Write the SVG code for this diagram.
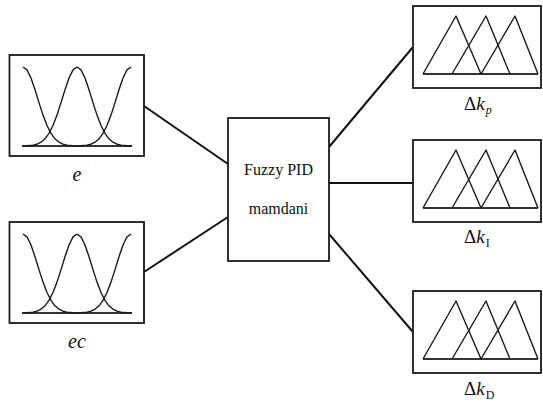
<svg xmlns="http://www.w3.org/2000/svg" width="543" height="403" viewBox="0 0 543 403">
  <style>
    .box { fill: #fff; stroke: #1a1a1a; stroke-width: 1.8; }
    .mf { fill: none; stroke: #1a1a1a; stroke-width: 1.4; stroke-linejoin: round; }
    .axis { fill: none; stroke: #333; stroke-width: 1.8; }
    .link { fill: none; stroke: #111; stroke-width: 2; }
    .lbl { font-family: "Liberation Serif", "Times New Roman", serif; fill: #111; }
    .var { font-size: 20px; font-style: italic; }
    .title { font-size: 16px; text-anchor: middle; }
  </style>
  <defs>
    <!-- half of a Gaussian membership curve, peak at origin, falling to the right -->
    <path id="halfBell" d="M0,0 L4,2.9 L8,11 L12,22.7 L16,35.6 L20,48.1 L24,58.5 L28,66.4 L32,71.8 L36,75.2 L40,77.2 L44,78.2 L50,78.8 L54,79"/>
    <!-- three overlapping Gaussian sets over a common universe -->
    <g id="gaussSet">
      <line class="axis" x1="22" y1="146" x2="132" y2="146"/>
      <use href="#halfBell" class="mf" transform="translate(23,67)"/>
      <use href="#halfBell" class="mf" transform="translate(77,67) scale(-1,1)"/>
      <use href="#halfBell" class="mf" transform="translate(77,67)"/>
      <use href="#halfBell" class="mf" transform="translate(131,67) scale(-1,1)"/>
    </g>
    <!-- three overlapping triangular sets -->
    <g id="triSet">
      <line class="axis" x1="423" y1="68" x2="538" y2="68"/>
      <polyline class="mf" points="423,68 456,10 481,68"/>
      <polyline class="mf" points="452,68 486,10 510,68"/>
      <polyline class="mf" points="481,68 515,10 538,68"/>
    </g>
  </defs>

  <g id="connectors">
    <line class="link" x1="144" y1="106" x2="228" y2="164"/>
    <line class="link" x1="144" y1="272" x2="228" y2="217"/>
    <line class="link" x1="329" y1="147" x2="413" y2="47"/>
    <line class="link" x1="329" y1="183" x2="413" y2="183"/>
    <line class="link" x1="329" y1="234" x2="413" y2="332"/>
  </g>

  <g id="input-e">
    <rect class="box" x="9.5" y="55" width="134.5" height="101"/>
    <use href="#gaussSet"/>
    <text class="lbl var" x="77" y="181" text-anchor="middle">e</text>
  </g>

  <g id="input-ec">
    <rect class="box" x="9.5" y="222" width="134.5" height="101"/>
    <use href="#gaussSet" transform="translate(0,167)"/>
    <text class="lbl var" x="77" y="348" text-anchor="middle">ec</text>
  </g>

  <g id="controller">
    <rect class="box" x="228" y="118" width="101" height="143"/>
    <text class="lbl title" x="278.5" y="175">Fuzzy PID</text>
    <text class="lbl title" x="278.5" y="214">mamdani</text>
  </g>

  <g id="output-kp">
    <rect class="box" x="413" y="6" width="128" height="82"/>
    <use href="#triSet" transform="translate(0,6)"/>
    <text class="lbl" x="464" y="110" font-size="19">Δ<tspan font-style="italic">k</tspan><tspan font-style="italic" font-size="12" dx="1" dy="4">p</tspan></text>
  </g>

  <g id="output-ki">
    <rect class="box" x="413" y="140" width="128" height="82"/>
    <use href="#triSet" transform="translate(0,140)"/>
    <text class="lbl" x="464" y="243" font-size="19">Δ<tspan font-style="italic">k</tspan><tspan font-size="12" dx="1" dy="4">I</tspan></text>
  </g>

  <g id="output-kd">
    <rect class="box" x="413" y="291" width="128" height="82"/>
    <use href="#triSet" transform="translate(0,291)"/>
    <text class="lbl" x="464" y="395" font-size="19">Δ<tspan font-style="italic">k</tspan><tspan font-size="12" dx="1" dy="4">D</tspan></text>
  </g>
</svg>
